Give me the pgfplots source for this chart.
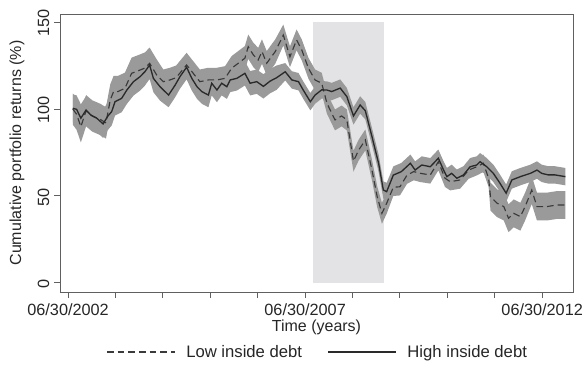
\documentclass[border=0pt]{standalone}
\usepackage{fontspec}
\setmainfont{Liberation Sans}
\usepackage{pgfplots}
\usepackage{pgfplotstable}
\pgfplotsset{compat=1.18}
\usepgfplotslibrary{fillbetween}
\definecolor{bandgray}{HTML}{9A9A9A}
\definecolor{shadegray}{HTML}{E3E3E5}
\definecolor{axgray}{HTML}{606060}
\definecolor{txt}{HTML}{262626}
\definecolor{solidc}{HTML}{2A2A2A}
\definecolor{dashc}{HTML}{3A3A3A}

\pgfplotstableread{
x y lo hi
2002.60 100.4 92.4 108.4
2002.68 99.8 91.8 107.8
2002.77 94.7 86.7 102.7
2002.88 99.4 91.4 107.4
2002.98 96.5 88.5 104.5
2003.11 94.6 86.6 102.6
2003.24 91.4 83.4 99.4
2003.33 95.6 87.6 103.6
2003.42 98.5 90.5 106.5
2003.49 104.2 96.2 112.2
2003.63 106.1 98.1 114.1
2003.74 110.9 102.9 118.9
2003.88 115.7 107.7 123.7
2004.02 118.6 110.6 126.6
2004.12 121.4 113.4 129.4
2004.22 125.3 117.3 133.3
2004.30 117.6 109.6 125.6
2004.44 112.8 104.8 120.8
2004.62 108 101 115
2004.76 113.8 106.8 120.8
2004.86 118.6 111.6 125.6
2005.00 124 117 131
2005.11 117.6 110.6 124.6
2005.22 112.8 105.8 119.8
2005.32 110 103 117
2005.46 108 101 115
2005.53 114.8 107.8 121.8
2005.64 110.9 103.9 117.9
2005.74 114.8 107.8 121.8
2005.85 112.8 105.8 119.8
2005.92 116.7 109.7 123.7
2006.06 117.6 110.6 124.6
2006.23 120.5 113.5 127.5
2006.34 114.8 107.8 121.8
2006.48 115.7 108.7 122.7
2006.62 113 106 120
2006.76 116 109 123
2006.90 118 111 125
2007.08 121.4 116.4 126.4
2007.22 116.7 111.7 121.7
2007.36 115.7 110.7 120.7
2007.46 110.9 105.9 115.9
2007.61 104.2 99.2 109.2
2007.71 108 103 113
2007.85 111 106 116
2007.96 110.9 105.9 115.9
2008.06 110 105 115
2008.24 112 107 117
2008.38 107.1 102.1 112.1
2008.52 96 91 101
2008.66 102.3 97.3 107.3
2008.77 99 94 104
2008.91 84.1 79.1 89.1
2009.05 68.8 63.8 73.8
2009.15 53.4 48.4 58.4
2009.22 52.5 47.5 57.5
2009.36 62 57 67
2009.53 64 59 69
2009.72 68.8 63.8 73.8
2009.82 64.9 59.9 69.9
2009.96 67.8 62.8 72.8
2010.14 66.8 61.8 71.8
2010.31 71.7 66.7 76.7
2010.42 64.9 59.9 69.9
2010.49 61.1 56.1 66.1
2010.59 63 58 68
2010.70 60.2 55.2 65.2
2010.84 62.1 57.1 67.1
2010.98 66.8 61.8 71.8
2011.12 67.8 62.8 72.8
2011.19 69.7 64.7 74.7
2011.33 66.8 61.8 71.8
2011.47 63 58 68
2011.61 57.3 52.3 62.3
2011.74 51.6 46.6 56.6
2011.86 59.2 54.2 64.2
2012.04 61.1 56.1 66.1
2012.25 63 58 68
2012.39 64.9 59.9 69.9
2012.49 63 58 68
2012.63 62.1 57.1 67.1
2012.77 62.1 57.1 67.1
2012.99 61.1 56.1 66.1
}\hightable

\pgfplotstableread{
x y lo hi
2002.60 100 91 109
2002.68 97 88 106
2002.77 89.8 80.8 98.8
2002.88 99 90 108
2003.01 96 87 105
2003.18 94 85 103
2003.30 92 83 101
2003.39 105.2 96.2 114.2
2003.46 110 101 119
2003.55 110 101 119
2003.70 111.9 102.9 120.9
2003.84 120.5 111.5 129.5
2004.02 122.4 113.4 131.4
2004.12 123.5 114.5 132.5
2004.22 126.3 117.3 135.3
2004.37 119.5 110.5 128.5
2004.51 115.7 108.7 122.7
2004.65 116.7 109.7 123.7
2004.78 118 111 125
2005.00 125.3 118.3 132.3
2005.14 120.5 113.5 127.5
2005.28 115.7 108.7 122.7
2005.46 116.7 109.7 123.7
2005.64 116.7 109.7 123.7
2005.81 117.6 110.6 124.6
2005.95 123.4 116.4 130.4
2006.09 126.3 119.3 133.3
2006.23 129.2 122.2 136.2
2006.30 135.8 128.8 142.8
2006.41 131 124 138
2006.51 128.2 121.2 135.2
2006.59 133 126 140
2006.69 126.3 119.3 133.3
2006.87 133 126 140
2007.04 142.5 136.5 148.5
2007.18 130 124 136
2007.32 139.7 133.7 145.7
2007.43 133.9 127.9 139.9
2007.57 123.4 117.4 129.4
2007.71 116.7 110.7 122.7
2007.85 114.8 108.8 120.8
2007.96 103.3 97.3 109.3
2008.13 93.7 87.7 99.7
2008.27 96 90 102
2008.38 93.7 87.7 99.7
2008.52 70 64 76
2008.63 76.4 70.4 82.4
2008.77 82.2 76.2 88.2
2008.91 64.9 58.9 70.9
2009.02 49.6 43.6 55.6
2009.12 40 34 46
2009.22 45.8 39.8 51.8
2009.36 55 50 60
2009.50 55.3 50.3 60.3
2009.65 62 57 67
2009.79 64 59 69
2009.93 63 58 68
2010.14 62.1 57.1 67.1
2010.31 69.7 64.7 74.7
2010.45 60.2 55.2 65.2
2010.56 58.2 53.2 63.2
2010.77 59.2 54.2 64.2
2010.95 64.9 59.9 69.9
2011.12 66.8 61.8 71.8
2011.26 68.8 63.8 73.8
2011.37 60.2 55.2 65.2
2011.41 49.6 41.6 57.6
2011.55 45.8 37.8 53.8
2011.69 43.9 35.9 51.9
2011.79 37.2 29.2 45.2
2011.90 40 32 48
2012.04 38.1 30.1 46.1
2012.14 43.9 35.9 51.9
2012.28 53.4 45.4 61.4
2012.39 43.9 35.9 51.9
2012.60 43.9 35.9 51.9
2012.81 44.8 36.8 52.8
2012.99 44.8 36.8 52.8
}\lowtable

\begin{document}
\begin{tikzpicture}
\begin{axis}[
  name=ax,
  set layers,
  scale only axis,
  width=384.75pt, height=208.5pt,
  xmin=2002.33, xmax=2013.15,
  ymin=-5.2, ymax=154.6,
  axis line style={axgray, line width=0.7pt},
  tick style={axgray, line width=0.7pt},
  tick align=outside,
  major tick length=4.5pt,
  xtick pos=bottom, ytick pos=left,
  xtick={2002.5,2003.5,2004.5,2005.5,2006.5,2007.5,2008.5,2009.5,2010.5,2011.5,2012.5},
  xticklabels={06/30/2002,,,,,06/30/2007,,,,,06/30/2012},
  ytick={0,50,100,150},
  /pgf/number format/assume math mode=true,
  tick label style={font=\fontsize{12.2}{14}\selectfont, text=txt},
  yticklabel style={rotate=90, anchor=south, xshift=-1pt},
  xticklabel style={yshift=-1pt},
  label style={font=\fontsize{12}{14}\selectfont, text=txt},
  xlabel={Time (years)},
  ylabel={Cumulative portfolio returns (\%)},
  xlabel style={at={(axis description cs:0.5,-0.126)}, anchor=center},
  ylabel style={at={(axis description cs:-0.084,0.5)}, anchor=center},
  legend style={draw=none, fill=none, at={(0.503,-0.216)}, anchor=center,
    font=\fontsize{12.5}{14}\selectfont, text=txt, legend columns=2,
    /tikz/every odd column/.append style={column sep=6pt},
    /tikz/every even column/.append style={column sep=17pt}},
  legend image code/.code={\draw[#1] (0pt,0pt) -- (51pt,0pt);},
  clip=false,
]
\addplot[fill=shadegray, draw=none, forget plot, on layer=axis background] coordinates {(2007.66,0) (2007.66,150) (2009.17,150) (2009.17,0)} -- cycle;

\addplot[name path=lowhi, draw=none, forget plot] table[x=x, y=hi] {\lowtable};
\addplot[name path=lowlo, draw=none, forget plot] table[x=x, y=lo] {\lowtable};
\addplot[bandgray, forget plot] fill between[of=lowhi and lowlo];

\addplot[name path=highhi, draw=none, forget plot] table[x=x, y=hi] {\hightable};
\addplot[name path=highlo, draw=none, forget plot] table[x=x, y=lo] {\hightable};
\addplot[bandgray, forget plot] fill between[of=highhi and highlo];

\addplot[dashc, line width=0.85pt, dash pattern=on 5pt off 3pt] table[x=x, y=y] {\lowtable};
\addlegendentry{Low inside debt}
\addplot[solidc, line width=1pt] table[x=x, y=y] {\hightable};
\addlegendentry{High inside debt}
\end{axis}
\pgfresetboundingbox
\path ([shift={(-45pt,-61.5pt)}]ax.south west) rectangle ([shift={(6.75pt,10.5pt)}]ax.north east);
\end{tikzpicture}
\end{document}
